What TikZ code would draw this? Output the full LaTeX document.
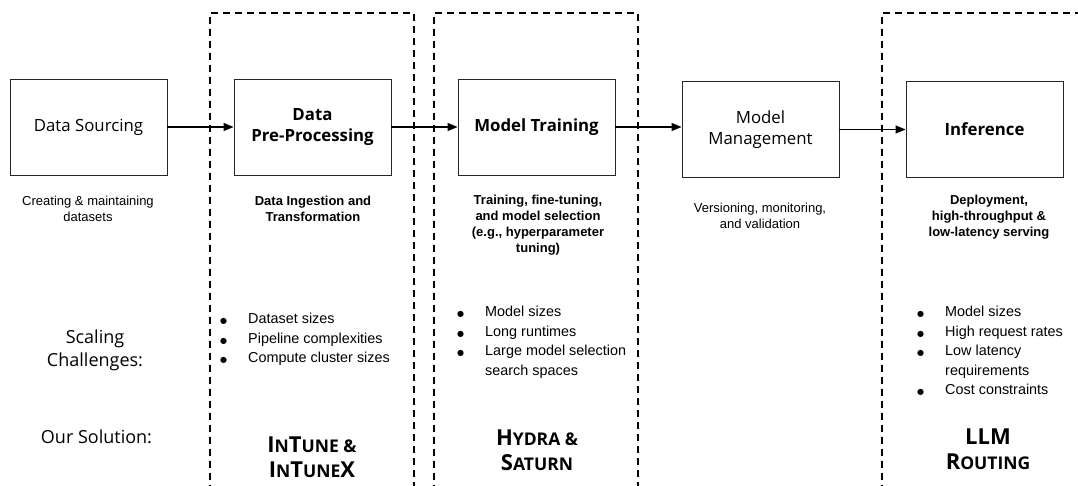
\documentclass[tikz,border=0pt]{standalone}
\usepackage{fontspec}
\setmainfont{Open Sans}
\newfontfamily\arialfont{Liberation Sans}
\newfontfamily\dotfont{DejaVu Sans}
\usetikzlibrary{arrows.meta}
\newcommand{\smc}[1]{{\fontsize{17.5}{26}\selectfont #1}}
\tikzset{
  stage/.style={draw=black!85, line width=0.9pt, minimum width=157pt, minimum height=96pt,
    inner sep=2pt, align=center, font=\fontsize{16.8}{21}\selectfont},
  boldstage/.style={stage, font=\fontsize{16.8}{21}\selectfont\bfseries},
  flow/.style={line width=1.4pt, -{Triangle[length=10pt,width=8pt]}},
  region/.style={line width=1.4pt, dash pattern=on 7pt off 5pt},
  desc/.style={align=center, inner sep=0pt, font=\arialfont\fontsize{13}{16}\selectfont},
  bdesc/.style={desc, font=\arialfont\fontsize{13}{16}\selectfont\bfseries},
  blist/.style={align=left, inner sep=0pt, anchor=north west, font=\arialfont\fontsize{14.4}{19.5}\selectfont},
  rowlabel/.style={align=center, inner sep=0pt, font=\fontsize{18}{23}\selectfont},
  solution/.style={align=center, inner sep=0pt, font=\fontsize{22}{25}\selectfont\bfseries},
}
\newcommand{\itm}[1]{\makebox[27pt][l]{\hspace{-1pt}{\dotfont\fontsize{8}{0}\selectfont ●}}#1}
\newcommand{\cnt}[1]{\makebox[27pt][l]{}#1}
\begin{document}
\begin{tikzpicture}[x=1pt,y=-1pt]
\useasboundingbox (0,0) rectangle (1078,486);

% dashed regions, open at the bottom
\draw[region] (210,492) -- (210,13) -- (414,13) -- (414,492);
\draw[region] (434,492) -- (434,13) -- (638,13) -- (638,492);
\draw[region] (882,492) -- (882,13) -- (1085,13);

% pipeline stages
\node[stage]     (src)   at (88.5,127)   {Data Sourcing};
\node[boldstage] (pre)   at (312.5,127)  {Data\\Pre-Processing};
\node[boldstage] (train) at (536.5,127)  {Model Training};
\node[stage]     (mgmt)  at (760.5,129.5) {Model\\Management};
\node[boldstage] (inf)   at (984.5,129.5) {Inference};

\draw[flow] (src) -- (pre);
\draw[flow] (pre) -- (train);
\draw[flow] (train) -- (train -| mgmt.west);
\draw[flow] (mgmt) -- (inf);

% stage descriptions
\node[desc]  (dsrc)   at (88,208.5)  {Creating \& maintaining\\datasets};
\node[bdesc] (dpre)   at (313,208.5) {Data Ingestion and\\Transformation};
\node[bdesc] (dtrain) at (538,225)   {Training, fine-tuning,\\and model selection\\(e.g., hyperparameter\\tuning)};
\node[desc]  (dmgmt)  at (760,215.5) {Versioning, monitoring,\\and validation};
\node[bdesc] (dinf)   at (989,217.5) {Deployment,\\high-throughput \&\\low-latency serving};

% row labels
\node[rowlabel] (scal) at (95,350) {Scaling\\Challenges:};
\node[rowlabel] (sol)  at (96.5,437) {Our Solution:};

% scaling challenges
\node[blist] (cpre) at (221,313) {\itm{Dataset sizes}\\\itm{Pipeline complexities}\\\itm{Compute cluster sizes}};
\node[blist] (ctrain) at (458,306) {\itm{Model sizes}\\\itm{Long runtimes}\\\itm{Large model selection}\\\cnt{search spaces}};
\node[blist] (cinf) at (918,306) {\itm{Model sizes}\\\itm{High request rates}\\\itm{Low latency}\\\cnt{requirements}\\\itm{Cost constraints}};

% solutions
\node[solution] (spre)   at (312,457.5) {I\smc{N}T\smc{UNE \&}\\I\smc{N}T\smc{UNE}X};
\node[solution] (strain) at (537,450)   {H\smc{YDRA \&}\\S\smc{ATURN}};
\node[solution] (sinf)   at (988,449.5) {LLM\\R\smc{OUTING}};
\end{tikzpicture}
\end{document}
